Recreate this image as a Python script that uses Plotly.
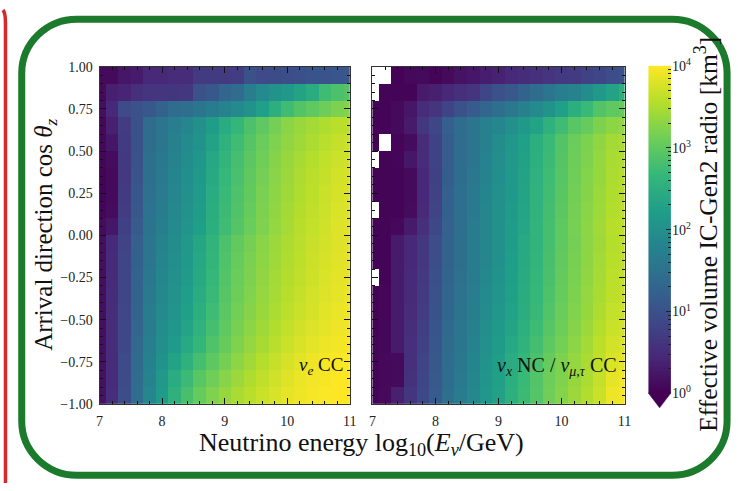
import plotly.graph_objects as go
import numpy as np

W, H = 738, 491

# ---------------- data (log10 of effective volume in km^3) ----------------
log10_energy = [7.0, 7.2, 7.4, 7.6, 7.8, 8.0, 8.2, 8.4, 8.6, 8.8, 9.0,
                9.2, 9.4, 9.6, 9.8, 10.0, 10.2, 10.4, 10.6, 10.8, 11.0]
cos_zenith = [0.95, 0.85, 0.75, 0.65, 0.55, 0.45, 0.35, 0.25, 0.15, 0.05,
              -0.05, -0.15, -0.25, -0.35, -0.45, -0.55, -0.65, -0.75, -0.85, -0.95]

log10_veff_nue_cc = [
    [0.10, 0.10, 0.25, 0.30, 0.45, 0.45, 0.50, 0.50, 0.70, 0.70, 0.70, 0.72, 1.00, 0.90, 0.92, 0.95, 0.98, 1.05, 1.05, 1.08, 1.10],
    [0.10, 0.35, 0.40, 0.55, 0.60, 0.60, 0.62, 0.65, 1.00, 1.10, 1.30, 1.40, 1.70, 1.90, 2.05, 2.15, 2.30, 2.45, 2.75, 2.85, 2.90],
    [0.15, 0.45, 0.90, 1.00, 1.10, 1.25, 1.40, 1.45, 1.55, 1.65, 1.80, 1.90, 2.05, 2.25, 2.50, 2.75, 2.90, 3.00, 3.10, 3.20, 3.25],
    [0.08, 0.35, 0.72, 1.00, 1.40, 1.55, 1.70, 1.85, 2.00, 2.20, 2.45, 2.65, 2.85, 3.00, 3.15, 3.28, 3.38, 3.45, 3.52, 3.58, 3.60],
    [0.08, 0.25, 0.70, 1.00, 1.42, 1.58, 1.75, 1.90, 2.05, 2.30, 2.55, 2.75, 2.92, 3.08, 3.22, 3.33, 3.42, 3.50, 3.58, 3.65, 3.68],
    [0.06, 0.12, 0.68, 1.02, 1.45, 1.60, 1.80, 1.95, 2.10, 2.38, 2.62, 2.80, 2.97, 3.12, 3.26, 3.37, 3.46, 3.55, 3.63, 3.70, 3.72],
    [0.05, 0.10, 0.68, 1.05, 1.45, 1.62, 1.82, 1.98, 2.15, 2.42, 2.66, 2.83, 3.00, 3.15, 3.28, 3.40, 3.50, 3.58, 3.66, 3.73, 3.75],
    [0.05, 0.10, 0.70, 1.08, 1.48, 1.65, 1.85, 2.00, 2.18, 2.45, 2.70, 2.86, 3.02, 3.18, 3.30, 3.42, 3.52, 3.60, 3.68, 3.76, 3.78],
    [0.06, 0.12, 0.72, 1.10, 1.50, 1.68, 1.88, 2.03, 2.20, 2.48, 2.72, 2.88, 3.05, 3.20, 3.33, 3.44, 3.54, 3.62, 3.70, 3.78, 3.80],
    [0.12, 0.25, 0.78, 1.15, 1.52, 1.72, 1.90, 2.06, 2.24, 2.50, 2.75, 2.92, 3.08, 3.22, 3.35, 3.46, 3.56, 3.64, 3.72, 3.80, 3.82],
    [0.15, 0.45, 0.82, 1.20, 1.55, 1.80, 1.95, 2.12, 2.35, 2.60, 2.85, 3.02, 3.15, 3.28, 3.40, 3.50, 3.58, 3.67, 3.74, 3.80, 3.82],
    [0.15, 0.48, 0.83, 1.22, 1.57, 1.82, 1.97, 2.15, 2.38, 2.63, 2.88, 3.05, 3.18, 3.30, 3.42, 3.52, 3.60, 3.69, 3.76, 3.82, 3.84],
    [0.15, 0.48, 0.84, 1.24, 1.60, 1.85, 2.00, 2.18, 2.42, 2.66, 2.90, 3.07, 3.20, 3.33, 3.44, 3.54, 3.62, 3.71, 3.78, 3.84, 3.86],
    [0.15, 0.50, 0.85, 1.26, 1.62, 1.87, 2.03, 2.22, 2.45, 2.70, 2.93, 3.10, 3.23, 3.35, 3.46, 3.56, 3.65, 3.73, 3.80, 3.86, 3.88],
    [0.16, 0.50, 0.86, 1.28, 1.65, 1.90, 2.06, 2.26, 2.50, 2.74, 2.96, 3.13, 3.26, 3.38, 3.49, 3.59, 3.68, 3.76, 3.83, 3.88, 3.90],
    [0.16, 0.50, 0.87, 1.30, 1.68, 1.94, 2.10, 2.32, 2.56, 2.80, 3.00, 3.17, 3.30, 3.42, 3.53, 3.63, 3.72, 3.80, 3.86, 3.91, 3.92],
    [0.17, 0.50, 0.88, 1.33, 1.72, 1.98, 2.16, 2.40, 2.65, 2.88, 3.06, 3.22, 3.35, 3.47, 3.58, 3.68, 3.77, 3.84, 3.90, 3.94, 3.95],
    [0.18, 0.50, 0.90, 1.38, 1.76, 2.05, 2.30, 2.55, 2.80, 2.98, 3.15, 3.30, 3.43, 3.55, 3.66, 3.76, 3.84, 3.90, 3.95, 3.98, 3.98],
    [0.18, 0.50, 0.92, 1.40, 1.80, 2.12, 2.45, 2.72, 2.95, 3.12, 3.27, 3.40, 3.52, 3.62, 3.72, 3.81, 3.88, 3.93, 3.97, 4.00, 4.00],
    [0.20, 0.52, 0.95, 1.42, 1.85, 2.18, 2.55, 2.82, 3.05, 3.22, 3.36, 3.48, 3.58, 3.68, 3.77, 3.85, 3.91, 3.95, 3.98, 4.00, 4.00],
]

N = None  # empty bins (no events)
log10_veff_nc = [
    [N,    N,    0.02, 0.08, 0.10, 0.05, 0.10, 0.20, 0.25, 0.33, 0.38, 0.45, 0.50, 0.55, 0.60, 0.68, 0.70, 0.80, 0.85, 0.95, 1.00],
    [N,    0.05, 0.05, 0.05, 0.28, 0.35, 0.45, 0.55, 0.60, 0.85, 1.00, 1.10, 1.25, 1.40, 1.55, 1.70, 1.80, 1.95, 2.15, 2.30, 2.50],
    [0.02, 0.05, 0.10, 0.25, 0.50, 0.60, 0.82, 1.00, 1.15, 1.30, 1.45, 1.60, 1.75, 1.90, 2.05, 2.25, 2.50, 2.70, 2.90, 3.00, 3.05],
    [0.02, 0.05, 0.10, 0.30, 0.65, 0.85, 1.20, 1.40, 1.55, 1.75, 1.85, 2.00, 2.15, 2.30, 2.55, 2.75, 2.95, 3.05, 3.20, 3.30, 3.35],
    [0.03, N,    0.06, 0.12, 0.50, 0.80, 1.15, 1.40, 1.55, 1.75, 1.95, 2.10, 2.25, 2.50, 2.70, 2.90, 3.08, 3.20, 3.33, 3.45, 3.50],
    [N,    0.04, 0.06, 0.25, 0.50, 0.80, 1.15, 1.40, 1.58, 1.78, 1.97, 2.12, 2.28, 2.52, 2.72, 2.92, 3.10, 3.22, 3.35, 3.48, 3.52],
    [0.03, 0.04, 0.05, 0.10, 0.45, 0.78, 1.18, 1.42, 1.60, 1.80, 1.98, 2.14, 2.30, 2.54, 2.74, 2.93, 3.11, 3.24, 3.37, 3.50, 3.55],
    [0.03, 0.04, 0.05, 0.10, 0.45, 0.80, 1.20, 1.44, 1.62, 1.82, 2.00, 2.15, 2.32, 2.56, 2.76, 2.95, 3.13, 3.26, 3.39, 3.52, 3.57],
    [N,    0.04, 0.05, 0.12, 0.48, 0.82, 1.22, 1.45, 1.64, 1.84, 2.01, 2.17, 2.34, 2.58, 2.78, 2.97, 3.15, 3.28, 3.41, 3.54, 3.59],
    [0.03, 0.05, 0.08, 0.30, 0.55, 0.88, 1.24, 1.46, 1.66, 1.86, 2.02, 2.19, 2.37, 2.60, 2.80, 2.99, 3.16, 3.30, 3.43, 3.56, 3.60],
    [0.03, 0.05, 0.28, 0.45, 0.65, 0.95, 1.25, 1.45, 1.65, 1.85, 2.00, 2.20, 2.40, 2.60, 2.80, 3.00, 3.15, 3.30, 3.42, 3.55, 3.60],
    [0.03, 0.05, 0.30, 0.46, 0.66, 0.96, 1.26, 1.46, 1.66, 1.86, 2.02, 2.22, 2.42, 2.62, 2.82, 3.01, 3.17, 3.31, 3.44, 3.57, 3.62],
    [N,    0.05, 0.30, 0.47, 0.68, 0.98, 1.28, 1.48, 1.68, 1.88, 2.04, 2.24, 2.44, 2.64, 2.84, 3.03, 3.18, 3.33, 3.46, 3.59, 3.64],
    [0.03, 0.06, 0.30, 0.48, 0.70, 1.00, 1.30, 1.50, 1.70, 1.90, 2.06, 2.26, 2.46, 2.66, 2.86, 3.05, 3.20, 3.35, 3.48, 3.61, 3.66],
    [0.03, 0.06, 0.30, 0.50, 0.72, 1.02, 1.32, 1.52, 1.72, 1.93, 2.09, 2.29, 2.49, 2.69, 2.89, 3.07, 3.23, 3.37, 3.51, 3.64, 3.69],
    [0.03, 0.07, 0.30, 0.52, 0.75, 1.05, 1.35, 1.55, 1.75, 1.97, 2.13, 2.33, 2.53, 2.73, 2.93, 3.10, 3.26, 3.40, 3.55, 3.68, 3.73],
    [0.04, 0.07, 0.30, 0.54, 0.78, 1.08, 1.38, 1.58, 1.78, 2.00, 2.17, 2.38, 2.58, 2.78, 2.98, 3.14, 3.30, 3.44, 3.60, 3.73, 3.78],
    [0.04, 0.08, 0.10, 0.55, 0.82, 1.10, 1.40, 1.60, 1.82, 2.05, 2.22, 2.45, 2.65, 2.85, 3.05, 3.20, 3.35, 3.48, 3.62, 3.78, 3.85],
    [0.04, 0.08, 0.10, 0.58, 0.85, 1.12, 1.42, 1.63, 1.85, 2.08, 2.26, 2.50, 2.70, 2.90, 3.10, 3.22, 3.37, 3.50, 3.65, 3.85, 3.92],
    [0.05, 0.10, 0.35, 0.62, 0.88, 1.15, 1.45, 1.66, 1.88, 2.10, 2.28, 2.52, 2.72, 2.92, 3.12, 3.25, 3.40, 3.53, 3.68, 3.90, 3.95],
]

x_ticks = [7, 8, 9, 10, 11]
y_ticks = [-1.0, -0.75, -0.5, -0.25, 0.0, 0.25, 0.5, 0.75, 1.0]
y_ticktext = ["\u22121.00", "\u22120.75", "\u22120.50", "\u22120.25", "0.00", "0.25", "0.50", "0.75", "1.00"]
cbar_decades = [0, 1, 2, 3, 4]
cbar_ticktext = ["10<sup>0</sup>", "10<sup>1</sup>", "10<sup>2</sup>", "10<sup>3</sup>", "10<sup>4</sup>"]

# ---------------- helpers for pixel placement ----------------
def px(x):
    return x / W

def py(y):
    return 1 - y / H

FONT = "Liberation Serif"
ZMIN, ZMAX = 0, 4

fig = go.Figure()

fig.add_trace(go.Heatmap(x=log10_energy, y=cos_zenith, z=log10_veff_nue_cc,
                         colorscale="Viridis", zmin=ZMIN, zmax=ZMAX, showscale=False,
                         xaxis="x", yaxis="y", hoverongaps=False))
fig.add_trace(go.Heatmap(x=log10_energy, y=cos_zenith, z=log10_veff_nc,
                         colorscale="Viridis", zmin=ZMIN, zmax=ZMAX, showscale=False,
                         xaxis="x2", yaxis="y2", hoverongaps=False))

# colour bar drawn as its own heatmap on a dedicated axis (log decades)
levels = np.linspace(ZMIN, ZMAX, 400)
fig.add_trace(go.Heatmap(x=[0], y=levels, z=[[v] for v in levels],
                         colorscale="Viridis", zmin=ZMIN, zmax=ZMAX, showscale=False,
                         xaxis="x3", yaxis="y3", hoverinfo="skip"))

minor_cbar = [d + np.log10(k) for d in range(0, 4) for k in range(2, 10)]

tickfont = dict(family=FONT, size=14, color="#222")
axis_common = dict(showline=True, linecolor="#333", linewidth=1, mirror="ticks",
                   ticks="inside", ticklen=6, tickwidth=1, tickcolor="#111",
                   showgrid=False, zeroline=False, tickfont=tickfont)

y_dom = [py(409), py(59)]

fig.update_layout(
    width=W, height=H,
    margin=dict(l=0, r=0, t=0, b=0),
    paper_bgcolor="white", plot_bgcolor="white",
    showlegend=False,
    xaxis=dict(domain=[px(97), px(351)], range=[7, 11], anchor="y",
               tickvals=x_ticks, ticktext=[str(v) for v in x_ticks], ticklabelstandoff=4,
               minor=dict(dtick=0.2, tick0=7, ticks="inside", ticklen=3, tickcolor="#111"),
               **axis_common),
    yaxis=dict(domain=y_dom, range=[-1, 1], anchor="x",
               tickvals=y_ticks, ticktext=y_ticktext, ticklabelstandoff=3,
               minor=dict(dtick=0.05, tick0=0, ticks="inside", ticklen=3, tickcolor="#111"),
               **axis_common),
    xaxis2=dict(domain=[px(374), px(630)], range=[7, 11], anchor="y2",
                tickvals=x_ticks, ticktext=[str(v) for v in x_ticks], ticklabelstandoff=4,
                minor=dict(dtick=0.2, tick0=7, ticks="inside", ticklen=3, tickcolor="#111"),
                **axis_common),
    yaxis2=dict(domain=y_dom, range=[-1, 1], anchor="x2",
                tickvals=y_ticks, showticklabels=False,
                minor=dict(dtick=0.05, tick0=0, ticks="inside", ticklen=3, tickcolor="#111"),
                **axis_common),
    xaxis3=dict(domain=[px(654), px(677)], range=[-0.5, 0.5], anchor="y3",
                visible=False, fixedrange=True),
    yaxis3=dict(domain=[py(398), py(58)], range=[ZMIN, ZMAX], anchor="x3", side="right",
                tickvals=cbar_decades, ticktext=cbar_ticktext,
                ticks="inside", ticklen=5, tickwidth=1, tickcolor="#222",
                minor=dict(tickmode="array", tickvals=minor_cbar, ticks="inside",
                           ticklen=3, tickcolor="#222"),
                showline=False, showgrid=False, zeroline=False,
                tickfont=dict(family=FONT, size=14, color="#222")),
)

# ---------------- texts ----------------
ann = []
ann.append(dict(x=px(363), y=py(450), xref="paper", yref="paper", showarrow=False,
                text="Neutrino energy log<sub>10</sub>(<i>E</i><sub><i>\u03bd</i></sub>/GeV)",
                font=dict(family=FONT, size=26, color="#111"), xanchor="center", yanchor="middle"))
ann.append(dict(x=px(42), y=py(233), xref="paper", yref="paper", showarrow=False,
                text="Arrival direction cos <i>\u03b8</i><sub><i>z</i></sub>", textangle=-90,
                font=dict(family=FONT, size=25, color="#111"), xanchor="center", yanchor="middle"))
ann.append(dict(x=px(713), y=py(233), xref="paper", yref="paper", showarrow=False,
                text="Effective volume IC-Gen2 radio [km<sup>3</sup>]", textangle=-90,
                font=dict(family=FONT, size=25.5, color="#111"), xanchor="center", yanchor="middle"))
ann.append(dict(x=px(346), y=py(370), xref="paper", yref="paper", showarrow=False,
                text="<i>\u03bd<sub>e</sub></i> CC",
                font=dict(family=FONT, size=19, color="#111"), xanchor="right", yanchor="middle"))
ann.append(dict(x=px(624), y=py(370), xref="paper", yref="paper", showarrow=False,
                text="<i>\u03bd<sub>x</sub></i> NC / <i>\u03bd<sub>\u03bc,\u03c4</sub></i> CC",
                font=dict(family=FONT, size=20, color="#111"), xanchor="right", yanchor="middle"))
fig.update_layout(annotations=ann)

# ---------------- decorative frame & colorbar extension ----------------
def rounded_rect(x0, y0, x1, y1, r):
    k = 0.5523 * r
    pts = [
        f"M {px(x0 + r)},{py(y0)}",
        f"L {px(x1 - r)},{py(y0)}",
        f"C {px(x1 - r + k)},{py(y0)} {px(x1)},{py(y0 + r - k)} {px(x1)},{py(y0 + r)}",
        f"L {px(x1)},{py(y1 - r)}",
        f"C {px(x1)},{py(y1 - r + k)} {px(x1 - r + k)},{py(y1)} {px(x1 - r)},{py(y1)}",
        f"L {px(x0 + r)},{py(y1)}",
        f"C {px(x0 + r - k)},{py(y1)} {px(x0)},{py(y1 - r + k)} {px(x0)},{py(y1 - r)}",
        f"L {px(x0)},{py(y0 + r)}",
        f"C {px(x0)},{py(y0 + r - k)} {px(x0 + r - k)},{py(y0)} {px(x0 + r)},{py(y0)}",
        "Z",
    ]
    return " ".join(pts)

shapes = [
    dict(type="path", xref="paper", yref="paper", path=rounded_rect(18, 9.5, 734, 483, 56),
         line=dict(color="#1b7a2b", width=7), fillcolor="rgba(0,0,0,0)", layer="below"),
    dict(type="path", xref="paper", yref="paper",
         path=f"M {px(-1)},{py(0)} Q {px(1.5)},{py(3)} {px(1.5)},{py(14)} L {px(1.5)},{py(491)}",
         line=dict(color="#d62a2a", width=3.5), fillcolor="rgba(0,0,0,0)"),
    dict(type="path", xref="paper", yref="paper",
         path=f"M {px(654)},{py(397.5)} L {px(677)},{py(397.5)} L {px(665.5)},{py(413)} Z",
         line=dict(color="#440154", width=0.5), fillcolor="#440154"),
]
fig.update_layout(shapes=shapes)

fig.write_html("out.html")
